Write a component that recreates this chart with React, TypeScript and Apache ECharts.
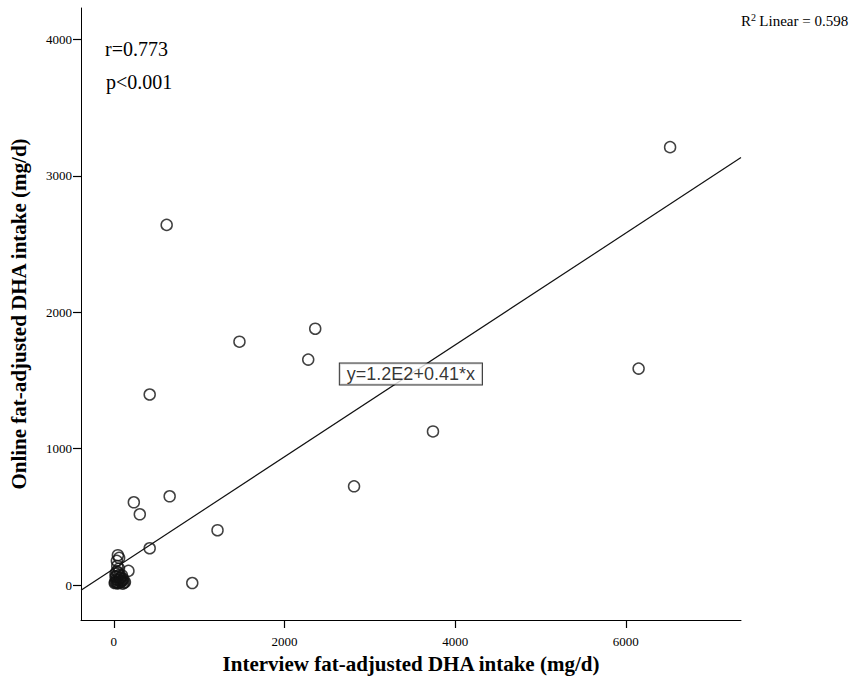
import React, { useEffect, useRef } from "react";
import * as echarts from "echarts";

// Interview vs online fat-adjusted DHA intake (mg/d)
const interviewDHA: number[] = [
  6519, 6150, 3740, 2815, 2360, 2278, 1472, 619, 420, 654, 234, 304, 1215, 420, 919,
  47, 35, 62, 171, 20, 30, 45, 60, 80, 100, 120, 25, 40, 55, 70, 90, 15, 10, 110, 65,
  50, 35, 95, 130, 75, 20, 85, 40, 60, 105, 30,
];
const onlineDHA: number[] = [
  3210, 1587, 1126, 724, 1879, 1653, 1784, 2640, 1397, 651, 607, 519, 402, 270, 15,
  219, 178, 200, 104, 60, 40, 20, 15, 25, 30, 18, 25, 12, 35, 50, 30, 20, 15, 45, 75,
  90, 100, 70, 22, 28, 85, 55, 140, 120, 10, 65,
];

// Fitted linear regression: y = b0 + b1 * x
const intercept = 120;
const slope = 0.41;
const equationLabel = "y=1.2E2+0.41*x";
const statLines = ["r=0.773", "p<0.001"];
const rSquaredText = "Linear = 0.598";

const xRange = [-385, 7350];
const yRange = [-256, 4230];
const xTicks = [0, 2000, 4000, 6000];
const yTicks = [0, 1000, 2000, 3000, 4000];
const labelAtX = 3481;

const serif = "'Liberation Serif', 'Times New Roman', serif";

export default function App() {
  const ref = useRef<HTMLDivElement>(null);

  useEffect(() => {
    if (!ref.current) return;
    const chart = echarts.init(ref.current, undefined, { renderer: "svg" });

    const points = interviewDHA.map((x, i) => [x, onlineDHA[i]]);
    const fitLine = xRange.map((x) => [x, intercept + slope * x]);
    const labelPoint = [[labelAtX, intercept + slope * labelAtX]];

    const axisCommon = {
      type: "value",
      nameLocation: "middle",
      nameTextStyle: { fontFamily: serif, fontWeight: "bold", fontSize: 21, color: "#000" },
      axisLine: { show: true, onZero: false, lineStyle: { color: "#000", width: 1 } },
      splitLine: { show: false },
    };

    chart.setOption({
      animation: false,
      backgroundColor: "#ffffff",
      grid: { left: 79, right: 117, top: 8, bottom: 57 },
      xAxis: {
        ...axisCommon,
        min: xRange[0],
        max: xRange[1],
        name: "Interview fat-adjusted DHA intake (mg/d)",
        nameGap: 33,
        axisTick: { show: true, length: 8, lineStyle: { color: "#000", width: 1.2 }, customValues: xTicks },
        axisLabel: {
          customValues: xTicks,
          formatter: (v: number) => String(v),
          fontFamily: serif,
          fontSize: 13,
          color: "#000",
          margin: 15,
        },
      },
      yAxis: {
        ...axisCommon,
        min: yRange[0],
        max: yRange[1],
        name: "Online fat-adjusted DHA intake (mg/d)",
        nameRotate: 90,
        nameGap: 52,
        axisTick: { show: true, length: 8, lineStyle: { color: "#000", width: 1.2 }, customValues: yTicks },
        axisLabel: {
          customValues: yTicks,
          formatter: (v: number) => String(v),
          fontFamily: serif,
          fontSize: 13,
          color: "#000",
          margin: 9,
        },
      },
      series: [
        {
          type: "line",
          data: fitLine,
          showSymbol: false,
          lineStyle: { color: "#111", width: 1.2 },
          z: 2,
        },
        {
          type: "scatter",
          data: points,
          symbol: "circle",
          symbolSize: 11,
          itemStyle: { color: "rgba(255,255,255,0)", borderColor: "#111", borderWidth: 1.5 },
          z: 3,
        },
        {
          type: "scatter",
          data: labelPoint,
          symbolSize: 0,
          z: 4,
          label: {
            show: true,
            position: "inside",
            formatter: equationLabel,
            fontFamily: "'Liberation Sans', 'DejaVu Sans', sans-serif",
            fontSize: 18,
            color: "#000",
            backgroundColor: "#fff",
            borderColor: "#000",
            borderWidth: 1,
            padding: [2, 7, 1, 7],
          },
        },
      ],
      graphic: [
        {
          type: "text",
          left: 105,
          top: 39,
          style: { text: statLines[0], font: `20px ${serif}`, fill: "#000" },
        },
        {
          type: "text",
          left: 106,
          top: 72,
          style: { text: statLines[1], font: `20px ${serif}`, fill: "#000" },
        },
        {
          type: "text",
          left: 741,
          top: 12,
          style: {
            text: "{r|R}{s|2} {r|" + rSquaredText + "}",
            rich: {
              r: { font: `15px ${serif}`, fill: "#000" },
              s: { font: `10px ${serif}`, fill: "#000", verticalAlign: "top", padding: [0, 0, 7, 0] },
            },
          },
        },
      ],
    });

    return () => chart.dispose();
  }, []);

  return (
    <div
      ref={ref}
      style={{ position: "absolute", left: 0, top: 0, width: 858, height: 679 }}
    />
  );
}
